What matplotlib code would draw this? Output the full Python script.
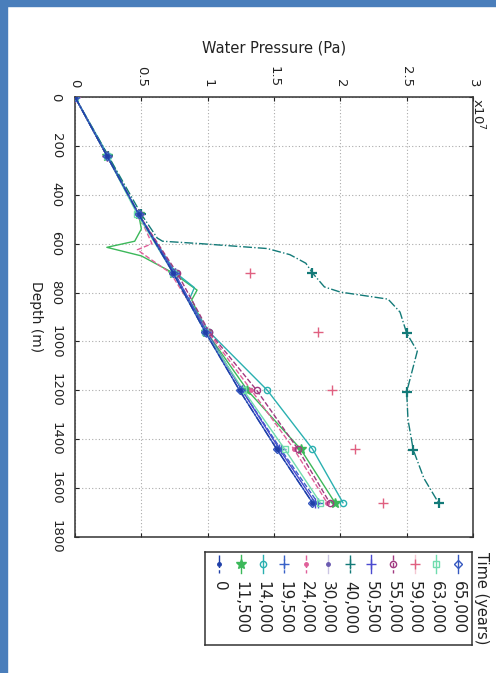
import matplotlib
matplotlib.use('Agg')
import matplotlib.pyplot as plt
from matplotlib.patches import Rectangle

# ---------------- data ----------------
times = ['0', '11,500', '14,000', '19,500', '24,000', '30,000',
         '40,000', '50,500', '55,000', '59,000', '63,000', '65,000']

depth_std = [0, 240, 480, 720, 960, 1200, 1440, 1660]

p_0 = [0, 0.24, 0.48, 0.74, 0.98, 1.24, 1.52, 1.79]

depth_11500 = [0, 240, 480, 540, 590, 615, 650, 720, 790, 830, 960, 1200, 1440, 1660]
p_11500 = [0, 0.24, 0.48, 0.50, 0.45, 0.24, 0.50, 0.74, 0.92, 0.88, 0.99, 1.30, 1.70, 1.96]

depth_14000 = [0, 240, 480, 720, 780, 830, 960, 1200, 1440, 1660]
p_14000 = [0, 0.25, 0.48, 0.76, 0.90, 0.86, 1.01, 1.45, 1.79, 2.02]

p_19500 = [0, 0.24, 0.48, 0.75, 0.99, 1.26, 1.55, 1.83]

depth_24000 = [0, 240, 480, 600, 625, 660, 720, 960, 1200, 1440, 1660]
p_24000 = [0, 0.24, 0.48, 0.58, 0.47, 0.56, 0.72, 1.00, 1.33, 1.65, 1.90]

p_30000 = [0, 0.24, 0.48, 0.75, 0.99, 1.25, 1.53, 1.80]

depth_40000 = [0, 240, 480, 577, 590, 600, 620, 645, 680, 720, 777, 798, 827,
               880, 966, 1040, 1207, 1320, 1444, 1560, 1660]
p_40000 = [0, 0.25, 0.50, 0.62, 0.66, 0.95, 1.45, 1.62, 1.74, 1.79, 1.88, 2.00,
           2.36, 2.45, 2.50, 2.58, 2.50, 2.51, 2.55, 2.63, 2.74]

p_50500 = [0, 0.24, 0.48, 0.75, 0.99, 1.26, 1.54, 1.81]
p_55000 = [0, 0.24, 0.48, 0.77, 1.01, 1.37, 1.68, 1.92]
p_59000 = [0, 0.24, 0.48, 1.32, 1.83, 1.94, 2.11, 2.32]
p_63000 = [0, 0.24, 0.47, 0.74, 0.98, 1.27, 1.58, 1.85]
p_65000 = [0, 0.24, 0.48, 0.74, 0.98, 1.24, 1.52, 1.79]

pressure_ticks = [0, 0.5, 1, 1.5, 2, 2.5, 3]
depth_ticks = [0, 200, 400, 600, 800, 1000, 1200, 1400, 1600, 1800]

# ---------------- styles ----------------
W, H = 496, 673
def fx(px): return px / W
def fy(py): return 1 - py / H

series = [
    # label, depths, pressures, color, marker, linestyle, markevery
    ('0', depth_std, p_0, '#1f3fa8', '.', '-.', None),
    ('11,500', depth_11500, p_11500, '#3cb85a', '*', '-', [0, 1, 2, 7, 10, 11, 12, 13]),
    ('14,000', depth_14000, p_14000, '#2ab0b0', 'o', '-', [0, 1, 2, 3, 6, 7, 8, 9]),
    ('19,500', depth_std, p_19500, '#3a62c8', '+', '--', None),
    ('24,000', depth_24000, p_24000, '#e0609a', '.', '--', [0, 1, 2, 6, 7, 8, 9, 10]),
    ('30,000', depth_std, p_30000, '#6a5ab0', '.', 'none', None),
    ('40,000', depth_40000, p_40000, '#137a78', '+', '-.', [0, 1, 2, 9, 14, 16, 18, 20]),
    ('50,500', depth_std, p_50500, '#4a4ad0', '+', '-', None),
    ('55,000', depth_std, p_55000, '#a03a80', 'o', '--', None),
    ('59,000', depth_std, p_59000, '#e06080', '+', 'none', None),
    ('63,000', depth_std, p_63000, '#70dcae', 's', '-', None),
    ('65,000', depth_std, p_65000, '#3558c0', 'D', '-', None),
]

fig = plt.figure(figsize=(W / 100, H / 100), dpi=100)
fig.patch.set_facecolor('white')
border = '#4a7ebb'
fig.patches.append(Rectangle((0, fy(6)), 1, 6 / H, transform=fig.transFigure,
                             color=border, zorder=0))
fig.patches.append(Rectangle((0, 0), fx(7), 1, transform=fig.transFigure,
                             color=border, zorder=0))

ax = fig.add_axes([fx(75), fy(537), fx(473) - fx(75), fy(97) - fy(537)])

for lab, d, p, c, m, ls, me in series:
    mfc = 'none' if m in ('o', 's', 'D') else c
    ms = 4.5 if m in ('o', 's', 'D') else (7 if m in ('+', '*') else 5)
    mew = 1.6 if (m == '+' and lab == '40,000') else 1.0
    ax.plot(p, d, color=c, marker=m, linestyle=ls, linewidth=1.0,
            markersize=ms, markerfacecolor=mfc, markeredgecolor=c,
            markeredgewidth=mew, markevery=me, zorder=3 if lab != '0' else 4)

ax.set_xlim(0, 3)
ax.set_ylim(1800, 0)
ax.set_xticks(pressure_ticks)
ax.set_xticklabels(['%g' % t for t in pressure_ticks])
ax.set_yticks(depth_ticks)
ax.set_yticklabels([str(t) for t in depth_ticks])
ax.xaxis.tick_top()
ax.tick_params(axis='both', direction='in', length=3, width=0.8,
               top=True, bottom=True, left=True, right=True,
               labeltop=True, labelbottom=False, labelleft=True,
               labelright=False, labelsize=9.5, colors='#222222')
ax.tick_params(axis='x', labelrotation=-90, pad=7)
ax.tick_params(axis='y', labelrotation=-90, pad=9)
for t in ax.get_yticklabels():
    t.set_va('center')
ax.grid(True, linestyle=(0, (1, 2)), color='#ababab', linewidth=0.8)
for s in ax.spines.values():
    s.set_color('#333333')
    s.set_linewidth(1.1)

fig.text(fx(274), fy(48), 'Water Pressure (Pa)', ha='center', va='center',
         fontsize=10.5, color='#222222')
fig.text(fx(36), fy(317), 'Depth (m)', ha='center', va='center',
         rotation=-90, fontsize=10, color='#222222')
fig.text(fx(478), fy(98), 'x10$^7$', ha='center', va='top', rotation=-90,
         fontsize=9.5, color='#222222')

# ---------------- legend (rotated) ----------------
lx0, lx1, ly0, ly1 = 205, 472, 552, 645
lax = fig.add_axes([fx(lx0), fy(ly1), fx(lx1) - fx(lx0), fy(ly0) - fy(ly1)])
lax.set_xlim(lx0, lx1)
lax.set_ylim(ly1, ly0)
lax.set_xticks([])
lax.set_yticks([])
for s in lax.spines.values():
    s.set_color('#333333')
    s.set_linewidth(1.1)

n = len(series)
for k, (lab, d, p, c, m, ls, me) in enumerate(series):
    x = 458 - 21.7 * (n - 1 - k)
    mfc = 'none' if m in ('o', 's', 'D') else c
    ms = 4.5 if m in ('o', 's', 'D') else (7 if m in ('+', '*') else 5)
    lax.plot([x, x, x], [555, 564, 573], color=c,
             linestyle='-' if ls == 'none' else ls, linewidth=1.0,
             alpha=0.35 if ls == 'none' else 1.0)
    lax.plot([x], [564], color=c, marker=m, linestyle='none', markersize=ms,
             markerfacecolor=mfc, markeredgecolor=c)
    lax.text(x, 581, lab, rotation=-90, ha='center', va='top',
             fontsize=11, color='#222222')

fig.text(fx(482), fy(598), 'Time (years)', rotation=-90, ha='center',
         va='center', fontsize=10.5, color='#222222')

fig.savefig('out.png', dpi=100)
